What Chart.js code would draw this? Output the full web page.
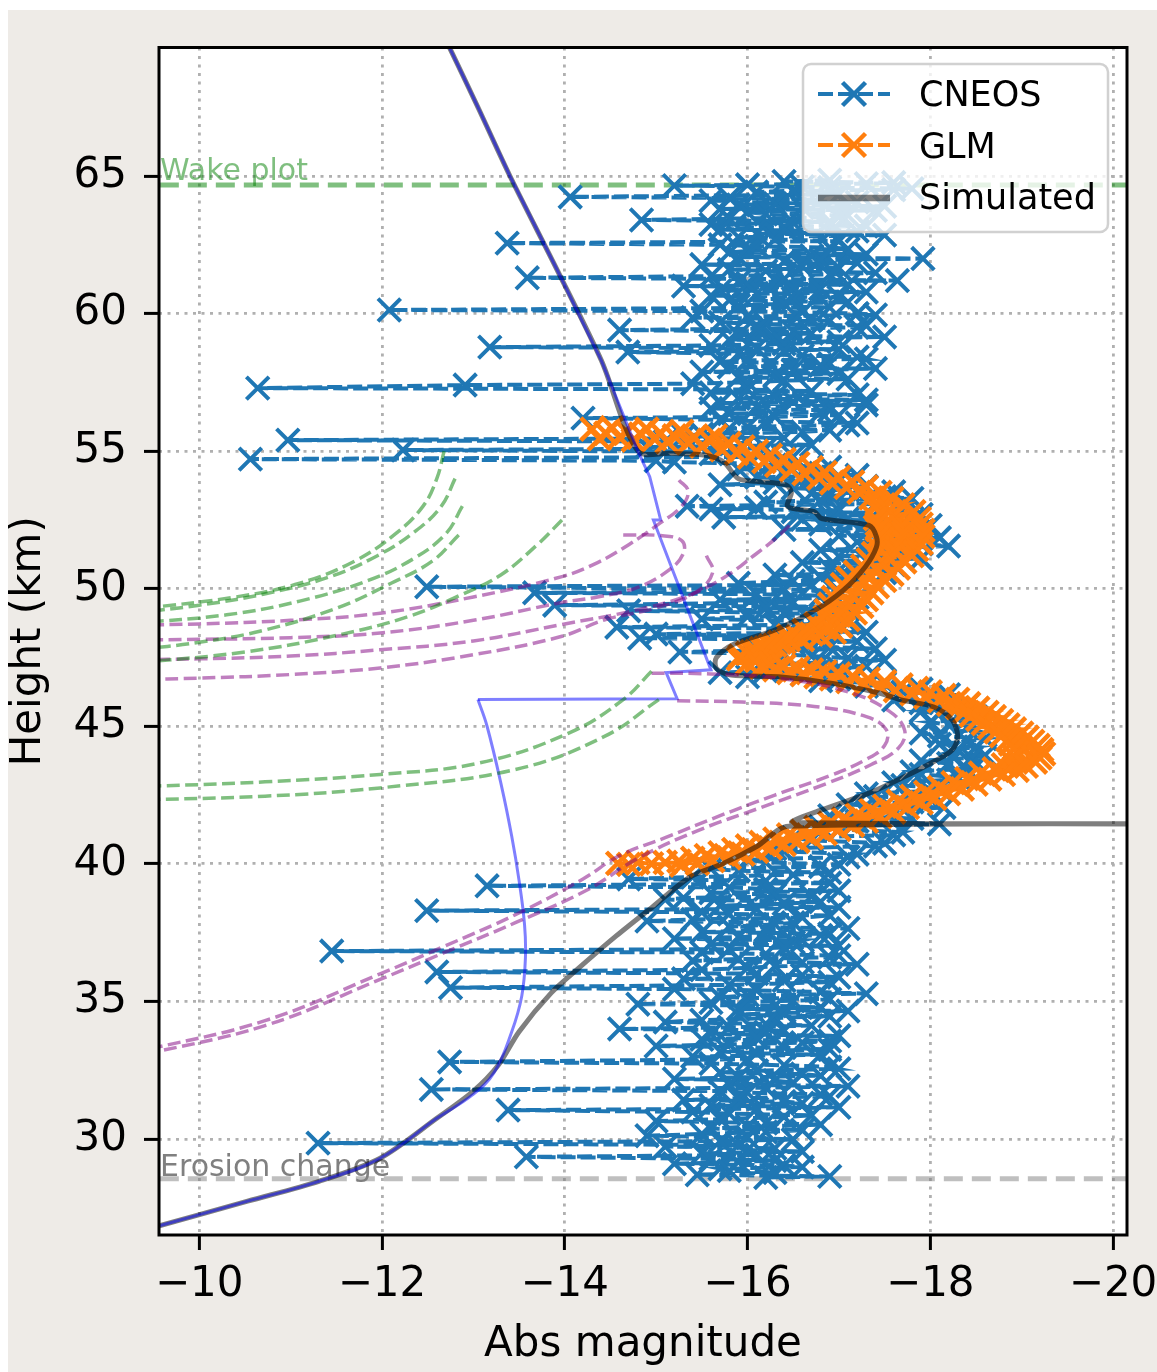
<!DOCTYPE html>
<html>
<head>
<meta charset="utf-8">
<script src="https://cdn.jsdelivr.net/npm/chart.js@4.4.1/dist/chart.umd.min.js"></script>
<style>
html, body { margin: 0; padding: 0; background: #fff; }
#wrap { position: absolute; left: 8px; top: 10px; width: 1149px; height: 1362px; background: #eeebe7; }
canvas { display: block; }
</style>
</head>
<body>
<div id="wrap"><canvas id="myChart" width="1149" height="1362"></canvas></div>
<script>
// axis ranges and ticks
const magMin = -20.153, magMax = -9.56;
const heightMin = 26.51, heightMax = 69.67;
const magTicks = [-10, -12, -14, -16, -18, -20];
const heightTicks = [30, 35, 40, 45, 50, 55, 60, 65];

// reference lines
const wakeHeight = 64.67;
const erosionHeight = 28.55;

// CNEOS light curve [mag, height]
const cneos = [
  [-16.9,64.85],[-16.4,64.80],[-17.6,64.76],[-17.3,64.72],[-16.0,64.68],[-15.2,64.65],[-16.6,64.61],[-16.9,64.58],
  [-17.8,64.54],[-17.6,64.50],[-16.5,64.46],[-16.1,64.42],[-17.0,64.33],[-14.06,64.24],[-15.8,64.20],[-16.8,64.15],
  [-15.6,64.10],[-17.2,64.05],[-16.3,64.00],[-15.9,63.95],[-17.5,63.90],[-16.6,63.85],[-15.7,63.80],[-17.4,63.75],
  [-16.0,63.68],[-16.2,63.62],[-17.1,63.56],[-17.0,63.50],[-15.8,63.45],[-14.84,63.40],[-16.9,63.35],[-16.5,63.30],
  [-15.6,63.24],[-17.3,63.18],[-16.4,63.12],[-15.7,63.05],[-17.2,63.00],[-16.9,62.95],[-16.1,62.90],[-17.5,62.85],
  [-15.9,62.78],[-16.3,62.70],[-17.0,62.63],[-13.37,62.56],[-15.7,62.50],[-16.1,62.45],[-16.9,62.40],[-17.1,62.35],
  [-16.0,62.28],[-15.8,62.22],[-17.3,62.16],[-16.7,62.10],[-15.9,62.05],[-17.92,62.00],[-16.8,61.95],[-16.4,61.90],
  [-17.2,61.84],[-15.5,61.78],[-16.6,61.72],[-17.0,61.65],[-15.8,61.60],[-16.2,61.55],[-17.4,61.48],[-16.9,61.42],
  [-15.6,61.36],[-13.59,61.30],[-16.4,61.25],[-17.64,61.20],[-15.9,61.15],[-16.0,61.10],[-17.1,61.05],[-15.3,61.00],
  [-16.5,60.95],[-16.8,60.90],[-15.7,60.84],[-17.3,60.78],[-16.1,60.72],[-15.6,60.65],[-17.0,60.60],[-16.5,60.55],
  [-15.8,60.48],[-17.1,60.42],[-16.4,60.36],[-15.9,60.30],[-16.9,60.22],[-12.08,60.13],[-15.5,60.09],[-16.6,60.05],
  [-17.2,60.00],[-17.4,59.95],[-16.0,59.90],[-15.4,59.85],[-16.7,59.80],[-16.9,59.75],[-15.7,59.68],[-16.2,59.62],
  [-17.3,59.56],[-17.2,59.50],[-16.1,59.45],[-14.6,59.40],[-16.5,59.34],[-16.7,59.28],[-15.9,59.22],[-17.5,59.15],
  [-16.3,59.10],[-15.8,59.05],[-17.0,58.98],[-16.4,58.90],[-15.6,58.84],[-13.18,58.78],[-16.1,58.74],[-17.0,58.70],
  [-16.4,58.65],[-14.69,58.60],[-15.9,58.54],[-16.6,58.48],[-17.2,58.42],[-17.3,58.35],[-16.0,58.30],[-15.7,58.25],
  [-16.9,58.18],[-16.8,58.12],[-15.8,58.06],[-17.4,58.00],[-16.5,57.94],[-15.5,57.88],[-17.0,57.82],[-16.3,57.75],
  [-15.9,57.68],[-17.1,57.62],[-16.4,57.56],[-16.0,57.50],[-15.4,57.45],[-12.91,57.40],[-10.64,57.29],[-16.0,57.24],
  [-16.7,57.18],[-15.6,57.12],[-17.2,57.05],[-16.3,56.98],[-15.9,56.92],[-17.3,56.86],[-16.5,56.80],[-15.7,56.74],
  [-17.3,56.68],[-16.1,56.62],[-15.6,56.55],[-16.9,56.48],[-16.8,56.42],[-15.8,56.36],[-17.0,56.30],[-16.3,56.25],
  [-14.2,56.20],[-15.7,56.14],[-16.2,56.08],[-17.2,56.02],[-17.1,55.95],[-16.0,55.88],[-15.8,55.82],[-16.9,55.76],
  [-16.6,55.70],[-15.5,55.62],[-15.3,55.55],[-16.4,55.48],[-10.97,55.40],[-15.1,55.35],[-16.0,55.30],[-16.7,55.22],
  [-14.9,55.15],[-16.2,55.10],[-12.23,55.04],[-15.9,54.97],[-15.6,54.90],[-16.5,54.80],[-10.56,54.71],[-15.0,54.65],
  [-15.2,54.60],[-16.0,54.55],[-16.3,54.50],[-16.9,54.42],[-15.9,54.35],[-16.4,54.28],[-16.8,54.20],[-17.2,54.12],
  [-16.1,54.05],[-16.6,53.98],[-17.0,53.92],[-16.3,53.85],[-15.7,53.78],[-17.3,53.72],[-16.5,53.65],[-17.1,53.58],
  [-17.6,53.52],[-16.7,53.46],[-16.9,53.40],[-17.5,53.34],[-17.8,53.28],[-16.8,53.22],[-16.2,53.15],[-17.4,53.08],
  [-15.34,53.00],[-16.1,52.95],[-15.6,52.90],[-17.0,52.85],[-16.5,52.80],[-17.7,52.75],[-17.9,52.70],[-16.9,52.65],
  [-15.74,52.60],[-17.1,52.56],[-16.6,52.52],[-17.8,52.46],[-17.3,52.40],[-16.8,52.35],[-18.0,52.30],[-17.5,52.22],
  [-16.4,52.15],[-17.9,52.08],[-17.6,52.00],[-17.0,51.92],[-18.1,51.85],[-17.6,51.78],[-17.2,51.70],[-17.9,51.62],
  [-18.2,51.55],[-17.4,51.48],[-16.8,51.40],[-17.8,51.32],[-17.5,51.25],[-17.0,51.18],[-17.9,51.10],[-17.3,51.02],
  [-16.6,50.95],[-17.6,50.88],[-17.4,50.80],[-16.9,50.72],[-17.0,50.65],[-17.5,50.58],[-16.3,50.50],[-16.8,50.42],
  [-17.2,50.35],[-16.5,50.28],[-15.9,50.20],[-16.7,50.14],[-12.49,50.07],[-16.4,49.98],[-17.0,49.92],[-13.67,49.85],
  [-16.1,49.80],[-16.8,49.75],[-17.2,49.68],[-15.7,49.60],[-16.5,49.50],[-13.89,49.40],[-16.9,49.35],[-16.2,49.30],
  [-17.1,49.25],[-14.7,49.20],[-16.4,49.12],[-16.9,49.05],[-16.0,48.98],[-15.5,48.90],[-16.7,48.82],[-17.1,48.75],
  [-16.3,48.68],[-14.57,48.60],[-16.9,48.54],[-16.6,48.48],[-17.3,48.42],[-15.0,48.35],[-16.4,48.28],[-14.82,48.20],
  [-16.8,48.14],[-17.2,48.08],[-16.5,48.02],[-16.0,47.95],[-16.9,47.88],[-17.4,47.82],[-16.2,47.76],[-15.26,47.70],
  [-16.4,47.62],[-16.7,47.55],[-17.1,47.48],[-17.5,47.40],[-16.8,47.32],[-16.3,47.25],[-17.3,47.18],[-17.0,47.10],
  [-16.2,47.02],[-15.7,46.95],[-16.6,46.88],[-16.0,46.80],[-17.0,46.72],[-16.8,46.65],[-17.5,46.55],[-17.3,46.45],
  [-17.9,46.35],[-17.7,46.25],[-18.2,46.15],[-18.0,46.05],[-17.6,45.95],[-17.9,45.85],[-18.4,45.75],[-18.3,45.65],
  [-17.9,45.55],[-18.1,45.45],[-18.5,45.35],[-18.4,45.25],[-18.0,45.15],[-18.2,45.05],[-18.4,44.95],[-18.5,44.85],
  [-17.9,44.75],[-18.1,44.65],[-18.6,44.55],[-18.4,44.45],[-18.1,44.35],[-18.5,44.25],[-18.3,44.15],[-18.2,44.05],
  [-18.6,43.95],[-18.45,43.85],[-17.9,43.75],[-18.2,43.65],[-18.5,43.55],[-18.4,43.45],[-17.8,43.35],[-17.9,43.25],
  [-18.3,43.15],[-18.2,43.05],[-17.6,42.95],[-17.7,42.85],[-18.1,42.75],[-18.0,42.65],[-17.3,42.55],[-17.4,42.45],
  [-18.0,42.35],[-17.8,42.25],[-17.1,42.15],[-18.15,42.05],[-17.6,41.95],[-17.3,41.85],[-16.9,41.75],[-17.8,41.65],
  [-17.2,41.55],[-18.1,41.45],[-16.8,41.35],[-17.0,41.25],[-17.7,41.15],[-17.6,41.05],[-16.5,40.95],[-16.7,40.85],
  [-17.5,40.75],[-17.4,40.65],[-16.3,40.55],[-16.4,40.45],[-17.2,40.35],[-17.1,40.25],[-16.0,40.15],[-16.2,40.05],
  [-17.0,39.98],[-16.8,39.90],[-15.6,39.82],[-15.9,39.75],[-16.9,39.68],[-16.5,39.60],[-15.4,39.52],[-14.7,39.45],
  [-16.2,39.38],[-16.9,39.30],[-13.15,39.20],[-15.8,39.14],[-16.2,39.08],[-17.0,39.02],[-15.6,38.95],[-16.3,38.88],
  [-16.7,38.82],[-15.3,38.76],[-15.1,38.70],[-16.8,38.62],[-16.4,38.55],[-15.7,38.48],[-17.0,38.42],[-16.1,38.36],
  [-12.49,38.30],[-15.5,38.24],[-15.8,38.18],[-16.9,38.12],[-16.6,38.05],[-15.4,37.98],[-14.9,37.92],[-16.5,37.86],
  [-16.3,37.80],[-15.8,37.72],[-17.1,37.65],[-16.2,37.58],[-15.5,37.52],[-16.9,37.46],[-16.8,37.40],[-15.9,37.34],
  [-15.2,37.28],[-16.6,37.22],[-16.5,37.15],[-15.6,37.08],[-17.0,37.02],[-16.4,36.96],[-15.8,36.90],[-11.45,36.83],
  [-15.5,36.78],[-16.2,36.72],[-17.0,36.66],[-16.9,36.60],[-15.9,36.54],[-15.4,36.48],[-16.6,36.42],[-17.2,36.35],
  [-16.3,36.28],[-16.0,36.22],[-15.5,36.15],[-12.60,36.07],[-16.1,36.01],[-16.6,35.95],[-17.0,35.88],[-15.3,35.82],
  [-16.4,35.76],[-16.9,35.70],[-15.8,35.60],[-12.75,35.50],[-15.2,35.45],[-16.1,35.40],[-16.8,35.34],[-17.3,35.28],
  [-16.0,35.22],[-15.7,35.15],[-16.9,35.08],[-16.5,35.02],[-15.6,34.96],[-14.8,34.90],[-16.3,34.84],[-16.8,34.78],
  [-15.9,34.72],[-17.1,34.65],[-16.4,34.58],[-15.9,34.52],[-16.9,34.46],[-16.3,34.40],[-15.5,34.32],[-15.1,34.25],
  [-16.2,34.18],[-16.7,34.12],[-15.8,34.06],[-14.6,34.00],[-16.4,33.94],[-16.2,33.88],[-15.6,33.82],[-17.0,33.75],
  [-16.1,33.68],[-15.5,33.62],[-16.9,33.56],[-16.6,33.50],[-15.8,33.44],[-15.0,33.38],[-16.4,33.32],[-16.9,33.25],
  [-15.7,33.18],[-16.1,33.12],[-16.8,33.06],[-15.4,33.00],[-16.0,32.90],[-12.74,32.80],[-15.6,32.74],[-16.4,32.68],
  [-16.9,32.62],[-17.0,32.55],[-16.1,32.48],[-15.7,32.42],[-16.6,32.36],[-16.8,32.30],[-15.9,32.24],[-15.2,32.18],
  [-16.3,32.12],[-16.5,32.05],[-15.8,31.98],[-17.1,31.92],[-16.2,31.86],[-12.54,31.80],[-15.7,31.74],[-16.0,31.68],
  [-16.8,31.62],[-16.9,31.55],[-15.9,31.48],[-15.3,31.42],[-16.4,31.36],[-16.6,31.30],[-15.6,31.22],[-17.0,31.15],
  [-16.1,31.10],[-13.38,31.05],[-15.4,30.98],[-15.8,30.92],[-16.7,30.86],[-16.4,30.80],[-15.7,30.72],[-15.0,30.65],
  [-16.2,30.58],[-16.8,30.52],[-16.0,30.45],[-15.6,30.38],[-16.6,30.32],[-16.2,30.25],[-15.5,30.18],[-14.9,30.12],
  [-16.0,30.05],[-16.5,29.98],[-15.7,29.92],[-11.30,29.85],[-15.9,29.78],[-15.1,29.72],[-16.3,29.66],[-16.0,29.60],
  [-16.6,29.54],[-15.5,29.48],[-16.1,29.42],[-13.58,29.35],[-15.6,29.28],[-16.3,29.22],[-15.9,29.16],[-15.2,29.10],
  [-16.4,29.04],[-16.6,28.98],[-15.7,28.92],[-15.8,28.85],[-16.3,28.78],[-15.45,28.70],[-16.9,28.64],[-16.2,28.60]
];

// GLM light curve [mag, height]
const glm = [
  [-14.30,55.80],[-14.38,55.45],[-14.45,55.65],[-14.52,55.85],[-14.60,55.50],[-14.68,55.70],[-14.75,55.40],[-14.83,55.62],
  [-14.90,55.80],[-14.98,55.45],[-15.05,55.65],[-15.12,55.35],[-15.20,55.55],[-15.28,55.72],[-15.35,55.30],[-15.42,55.50],
  [-15.50,55.18],[-15.58,55.40],[-15.65,55.55],[-15.72,55.05],[-15.80,55.28],[-15.88,54.92],[-15.95,55.15],[-16.02,54.78],
  [-16.10,55.00],[-16.18,54.62],[-16.25,54.85],[-16.32,54.48],[-16.40,54.70],[-16.48,54.32],[-16.55,54.55],[-16.62,54.18],
  [-16.70,54.40],[-16.78,54.02],[-16.85,54.22],[-16.92,53.85],[-17.00,54.05],[-17.08,53.68],[-17.15,53.88],[-17.22,53.50],
  [-17.30,53.70],[-17.35,53.30],[-17.45,53.50],[-17.42,53.10],[-17.58,53.28],[-17.40,52.95],[-17.70,53.05],[-17.55,52.85],
  [-17.45,52.75],[-17.82,52.80],[-17.60,52.65],[-17.40,52.55],[-17.88,52.55],[-17.65,52.45],[-17.42,52.35],[-17.90,52.35],
  [-17.68,52.25],[-17.42,52.15],[-17.92,52.12],[-17.70,52.02],[-17.45,51.95],[-17.92,51.90],[-17.68,51.80],[-17.45,51.72],
  [-17.90,51.65],[-17.65,51.58],[-17.42,51.50],[-17.85,51.42],[-17.62,51.35],[-17.38,51.28],[-17.80,51.20],[-17.55,51.12],
  [-17.32,51.05],[-17.72,50.98],[-17.50,50.90],[-17.26,50.82],[-17.65,50.75],[-17.42,50.68],[-17.18,50.60],[-17.58,50.52],
  [-17.35,50.45],[-17.10,50.38],[-17.50,50.30],[-17.28,50.22],[-17.04,50.15],[-17.42,50.08],[-17.20,50.00],[-16.98,49.92],
  [-17.36,49.85],[-17.15,49.76],[-16.94,49.68],[-17.30,49.60],[-17.10,49.52],[-16.90,49.44],[-17.25,49.36],[-17.05,49.28],
  [-16.86,49.20],[-17.18,49.12],[-17.00,49.04],[-16.85,48.96],[-17.10,48.88],[-16.92,48.80],[-16.75,48.72],[-17.02,48.64],
  [-16.85,48.56],[-16.62,48.48],[-16.95,48.42],[-16.70,48.35],[-16.45,48.28],[-16.80,48.30],[-16.60,48.15],[-16.40,48.05],
  [-16.55,48.25],[-16.30,47.95],[-16.45,48.15],[-16.20,47.85],[-16.35,48.05],[-16.10,47.72],[-16.25,47.92],[-16.00,47.65],
  [-16.15,47.82],[-15.92,47.55],[-16.05,47.70],[-15.90,47.45],[-16.10,47.40],[-16.00,47.30],[-16.25,47.30],[-16.15,47.15],
  [-16.40,47.20],[-16.30,47.05],[-16.55,47.12],[-16.45,46.95],[-16.70,47.05],[-16.60,46.88],[-16.85,46.98],[-16.75,46.80],
  [-17.00,46.90],[-16.92,46.72],[-17.15,46.82],[-17.10,46.62],[-17.32,46.72],[-17.28,46.52],[-17.50,46.62],[-17.45,46.42],
  [-17.68,46.50],[-17.62,46.30],[-17.85,46.38],[-17.80,46.18],[-18.00,46.25],[-17.95,46.05],[-18.15,46.12],[-18.10,45.92],
  [-18.30,45.98],[-18.20,45.80],[-18.42,45.82],[-18.30,45.68],[-18.52,45.66],[-18.38,45.54],[-18.62,45.50],[-18.45,45.40],
  [-18.70,45.35],[-18.52,45.25],[-18.78,45.20],[-18.58,45.10],[-18.85,45.05],[-18.65,44.95],[-18.92,44.90],[-18.72,44.80],
  [-19.00,44.75],[-18.78,44.65],[-19.06,44.60],[-18.85,44.50],[-19.12,44.45],[-18.88,44.35],[-19.18,44.30],[-18.92,44.20],
  [-19.22,44.15],[-18.95,44.05],[-19.24,44.00],[-18.92,43.90],[-19.20,43.85],[-18.88,43.75],[-19.15,43.70],[-18.80,43.60],
  [-19.05,43.55],[-18.70,43.45],[-18.95,43.40],[-18.55,43.30],[-18.80,43.25],[-18.40,43.10],[-18.65,43.08],[-18.25,42.95],
  [-18.50,42.90],[-18.10,42.78],[-18.35,42.72],[-17.95,42.60],[-18.20,42.55],[-17.80,42.45],[-18.05,42.38],[-17.65,42.28],
  [-17.90,42.22],[-17.50,42.10],[-17.75,42.05],[-17.35,41.95],[-17.60,41.88],[-17.20,41.78],[-17.45,41.72],[-17.05,41.62],
  [-17.30,41.55],[-16.90,41.48],[-17.15,41.40],[-16.75,41.32],[-17.00,41.25],[-16.60,41.18],[-16.85,41.10],[-16.45,41.05],
  [-16.70,40.95],[-16.30,40.90],[-16.55,40.82],[-16.15,40.78],[-16.40,40.70],[-16.00,40.65],[-16.25,40.58],[-15.85,40.52],
  [-16.10,40.45],[-15.70,40.40],[-15.95,40.35],[-15.55,40.30],[-15.80,40.22],[-15.40,40.20],[-15.62,40.12],[-15.25,40.10],
  [-15.45,40.02],[-15.10,40.05],[-15.28,39.95],[-14.95,40.00],[-14.80,40.05],[-14.70,39.98],[-14.58,40.02]
];

// simulated light curve [mag, height]
const simulated = [
  [-12.72,69.8],[-13.05,67.5],[-13.4,65.0],[-13.93,61.5],[-14.4,58.3],[-14.8,55.0],[-15.15,54.92],[-15.54,54.85],
  [-15.74,54.6],[-15.9,54.0],[-16.1,53.9],[-16.42,53.77],[-16.48,53.5],[-16.44,52.98],[-16.73,52.8],[-16.81,52.55],
  [-17.33,52.3],[-17.41,51.9],[-17.41,51.5],[-17.29,50.8],[-17.05,49.95],[-16.73,49.2],[-16.3,48.5],[-15.86,48.0],
  [-15.66,47.5],[-15.66,47.1],[-15.82,46.86],[-16.34,46.8],[-16.93,46.56],[-17.45,46.2],[-17.68,45.96],[-18.04,45.7],
  [-18.24,45.23],[-18.3,44.63],[-18.24,44.14],[-18.04,43.72],[-17.72,43.17],[-17.33,42.57],[-16.81,41.96],[-16.5,41.5],
  [-26.0,41.5],[-26.0,41.37],[-16.45,41.37],[-16.1,40.63],[-15.74,40.02],[-15.38,39.54],[-14.97,38.46],[-14.56,37.37],
  [-14.14,36.17],[-13.85,35.3],[-13.5,33.9],[-13.27,32.67],[-12.99,31.71],[-12.6,30.75],[-11.98,29.3],[-11.31,28.46],
  [-10.53,27.74],[-9.3,26.6]
];

// single-body model line [mag, height]: stepped upper part, smooth lower part
const modelUpper = [
  [-12.72,69.8],[-13.05,67.5],[-13.4,65.0],[-13.93,61.5],[-14.4,58.3],[-14.8,55.0],[-14.93,54.07],[-15.05,52.5],
  [-14.97,52.5],[-15.6,47.05],[-15.11,46.95],[-15.23,46.0],[-13.05,45.97]
];
const modelLower = [
  [-13.05,45.97],[-13.15,45.0],[-13.31,42.8],[-13.42,41.0],[-13.5,39.4],[-13.56,37.8],[-13.57,36.6],[-13.53,35.2],
  [-13.42,33.9],[-13.23,32.43],[-12.99,31.6],[-12.6,30.75],[-11.98,29.3],[-11.31,28.46],[-10.53,27.74],[-9.3,26.6]
];

// fragment curves (purple)
const fragU1 = [[-15.25,53.95],[-15.35,53.55],[-15.28,53.0],[-15.05,52.4],[-14.7,51.6],[-14.36,50.95],[-13.97,50.44],[-13.0,49.7],[-11.98,49.11],[-11.0,48.85],[-10.0,48.72],[-9.3,48.68]];
const fragU2 = [[-14.64,51.95],[-15.05,51.93],[-15.28,51.75],[-15.3,51.3],[-15.15,50.7],[-14.8,50.05],[-14.36,49.7],[-13.97,49.5],[-13.0,48.85],[-11.98,48.39],[-11.0,48.22],[-10.0,48.16],[-9.3,48.14]];
const fragU3 = [[-16.46,52.3],[-16.3,51.8],[-16.1,51.28],[-15.74,50.4],[-15.35,49.75],[-14.75,49.2],[-13.97,48.7],[-13.0,48.1],[-11.98,47.78],[-11.0,47.55],[-10.0,47.45],[-9.3,47.42]];
const fragU4 = [[-15.55,51.2],[-15.62,50.6],[-15.45,49.9],[-15.0,49.3],[-14.44,48.87],[-13.97,48.27],[-13.0,47.6],[-11.98,47.12],[-11.0,46.88],[-10.0,46.75],[-9.3,46.7]];
const fragL1 = [[-15.23,45.93],[-15.94,45.88],[-16.73,45.72],[-17.3,45.35],[-17.52,44.87],[-17.5,44.3],[-17.3,43.8],[-16.9,43.2],[-16.3,42.5],[-15.7,41.75],[-15.1,40.95],[-14.6,40.3],[-14.2,39.45],[-13.46,38.15],[-12.68,37.0],[-11.98,36.0],[-10.72,34.3],[-9.3,33.15]];
const fragL2 = [[-14.95,46.93],[-15.6,46.9],[-16.4,46.72],[-17.1,46.25],[-17.55,45.55],[-17.72,44.85],[-17.65,44.2],[-17.35,43.6],[-16.85,42.9],[-16.15,42.05],[-15.45,41.2],[-14.8,40.2],[-14.25,39.06],[-13.46,37.86],[-12.68,36.77],[-11.98,35.8],[-10.72,34.12],[-9.3,33.0]];

// wake curves (green)
const wakeU1 = [[-12.68,55.0],[-12.6,54.0],[-12.45,53.0],[-12.15,52.0],[-11.7,51.0],[-11.1,50.2],[-10.4,49.7],[-9.3,49.25]];
const wakeU2 = [[-12.8,54.0],[-12.65,53.0],[-12.37,52.1],[-11.95,51.2],[-11.4,50.4],[-10.7,49.8],[-10.0,49.4],[-9.3,49.12]];
const wakeU3 = [[-12.88,53.0],[-12.7,52.0],[-12.35,51.1],[-11.85,50.3],[-11.1,49.55],[-10.3,49.05],[-9.3,48.75]];
const wakeU4 = [[-12.84,51.95],[-12.55,51.0],[-12.1,50.2],[-11.51,49.3],[-10.72,48.5],[-10.0,48.05],[-9.3,47.78]];
const wakeU5 = [[-13.97,52.5],[-13.7,51.6],[-13.3,50.5],[-12.88,49.8],[-12.3,49.0],[-11.5,48.3],[-10.5,47.7],[-9.3,47.3]];
const wakeL1 = [[-14.95,47.0],[-14.64,45.97],[-14.05,44.76],[-13.07,43.67],[-11.98,43.25],[-10.72,42.98],[-9.3,42.8]];
const wakeL2 = [[-15.03,45.97],[-14.44,44.64],[-13.46,43.43],[-11.98,42.76],[-10.72,42.46],[-9.3,42.32]];

const FONT = '"DejaVu Sans", sans-serif';
const blue = '#1f77b4', orange = '#ff7f0e';

function toXY(list) { return list.map(p => ({ x: p[0], y: p[1] })); }

function curve(list, color, ord) {
    return {
        data: toXY(list), showLine: true, borderColor: color, borderWidth: 3.5,
        borderDash: [13, 5.5], pointRadius: 0, tension: 0.4, order: ord
    };
}

const fragColor = 'rgba(128,0,128,0.5)';
const wakeColor = 'rgba(0,128,0,0.5)';

const datasets = [
    { label: 'CNEOS', data: toXY(cneos), showLine: true, borderColor: blue, borderWidth: 4, borderDash: [15, 5],
      pointStyle: 'crossRot', pointRadius: 16, pointBorderColor: blue, pointBorderWidth: 4, order: 9 },
    { label: 'GLM', data: toXY(glm), showLine: true, borderColor: orange, borderWidth: 4, borderDash: [15, 5],
      pointStyle: 'crossRot', pointRadius: 16, pointBorderColor: orange, pointBorderWidth: 4.5, order: 8 },
    { label: 'Simulated', data: toXY(simulated), showLine: true, borderColor: 'rgba(0,0,0,0.5)', borderWidth: 5,
      pointRadius: 0, tension: 0.3, order: 7 },
    { label: 'model upper', data: toXY(modelUpper), showLine: true, borderColor: 'rgba(0,0,255,0.5)', borderWidth: 3,
      pointRadius: 0, tension: 0, order: 6 },
    { label: 'model lower', data: toXY(modelLower), showLine: true, borderColor: 'rgba(0,0,255,0.5)', borderWidth: 3,
      pointRadius: 0, tension: 0.4, order: 6 },
    { label: 'wake line', data: [{ x: -30, y: wakeHeight }, { x: 0, y: wakeHeight }], showLine: true,
      borderColor: wakeColor, borderWidth: 5, borderDash: [19, 9], pointRadius: 0, order: 10 },
    { label: 'erosion line', data: [{ x: -30, y: erosionHeight }, { x: 0, y: erosionHeight }], showLine: true,
      borderColor: 'rgba(128,128,128,0.5)', borderWidth: 5, borderDash: [19, 9], pointRadius: 0, order: 10 },
    curve(fragU1, fragColor, 5), curve(fragU2, fragColor, 5), curve(fragU3, fragColor, 5), curve(fragU4, fragColor, 5),
    curve(fragL1, fragColor, 5), curve(fragL2, fragColor, 5),
    curve(wakeU1, wakeColor, 4), curve(wakeU2, wakeColor, 4), curve(wakeU3, wakeColor, 4), curve(wakeU4, wakeColor, 4),
    curve(wakeU5, wakeColor, 4), curve(wakeL1, wakeColor, 4), curve(wakeL2, wakeColor, 4)
];

// legend entries
const legendItems = [
    { text: 'CNEOS', color: blue, dashed: true, marker: true },
    { text: 'GLM', color: orange, dashed: true, marker: true },
    { text: 'Simulated', color: 'rgba(0,0,0,0.5)', dashed: false, marker: false }
];

function drawX(ctx, cx, cy, r) {
    ctx.beginPath();
    ctx.moveTo(cx - r, cy - r); ctx.lineTo(cx + r, cy + r);
    ctx.moveTo(cx - r, cy + r); ctx.lineTo(cx + r, cy - r);
    ctx.stroke();
}

const decorations = {
    id: 'decorations',
    beforeDraw(chart) {
        // white axes background
        const { ctx, chartArea: a } = chart;
        ctx.save();
        ctx.fillStyle = '#ffffff';
        ctx.fillRect(a.left, a.top, a.right - a.left, a.bottom - a.top);
        ctx.restore();
    },
    beforeDatasetsDraw(chart) {
        const { ctx, chartArea: a, scales: { y } } = chart;
        ctx.save();
        ctx.font = '30px ' + FONT;
        ctx.textAlign = 'left';
        ctx.textBaseline = 'alphabetic';
        ctx.fillStyle = 'rgba(0,128,0,0.5)';
        ctx.fillText('Wake plot', a.left + 1, y.getPixelForValue(wakeHeight) - 5);
        ctx.fillStyle = '#808080';
        ctx.fillText('Erosion change', a.left + 1, y.getPixelForValue(erosionHeight) - 3);
        ctx.restore();
    },
    afterDatasetsDraw(chart) {
        const { ctx, chartArea: a } = chart;
        ctx.save();
        ctx.strokeStyle = '#000';
        ctx.lineWidth = 3;
        ctx.strokeRect(a.left, a.top, a.right - a.left, a.bottom - a.top);
        ctx.restore();
    },
    afterDraw(chart) {
        const ctx = chart.ctx;
        ctx.save();
        // legend frame
        ctx.beginPath();
        ctx.roundRect(795, 54, 305, 168, 8);
        ctx.fillStyle = 'rgba(255,255,255,0.8)';
        ctx.fill();
        ctx.lineWidth = 2.5;
        ctx.strokeStyle = 'rgba(204,204,204,0.9)';
        ctx.stroke();
        const rows = [84, 135, 188];
        const baselines = [96, 148, 199];
        legendItems.forEach((item, i) => {
            const cy = rows[i];
            ctx.strokeStyle = item.color;
            if (item.dashed) {
                ctx.lineWidth = 4;
                ctx.setLineDash([15, 5]);
            } else {
                ctx.lineWidth = 6.5;
                ctx.setLineDash([]);
            }
            ctx.beginPath();
            ctx.moveTo(810, cy);
            ctx.lineTo(882, cy);
            ctx.stroke();
            ctx.setLineDash([]);
            if (item.marker) {
                ctx.lineWidth = 4.5;
                drawX(ctx, 846, cy, 11.5);
            }
            ctx.fillStyle = '#000';
            ctx.font = '35px ' + FONT;
            ctx.textBaseline = 'alphabetic';
            ctx.textAlign = 'left';
            ctx.fillText(item.text, 911, baselines[i]);
        });
        ctx.restore();
    }
};

const tickFont = { family: FONT, size: 42 };

const myChart = new Chart(document.getElementById('myChart'), {
    type: 'scatter',
    data: { datasets: datasets },
    options: {
        responsive: false,
        devicePixelRatio: 1,
        animation: false,
        events: [],
        layout: { padding: { top: 37.5, right: 30, left: 0, bottom: 0 } },
        plugins: { legend: { display: false }, tooltip: { enabled: false } },
        scales: {
            x: {
                type: 'linear',
                reverse: true,
                min: magMin,
                max: magMax,
                afterBuildTicks: s => { s.ticks = magTicks.map(v => ({ value: v })); },
                afterFit: s => { s.height = 137; s.paddingLeft = 0; s.paddingRight = 0; },
                ticks: {
                    callback: v => '\u2212' + Math.abs(v),
                    font: tickFont, color: '#000', padding: 10, maxRotation: 0, autoSkip: false
                },
                grid: { color: '#b0b0b0', lineWidth: 2.8, tickColor: '#000', tickWidth: 3, tickLength: 15 },
                border: { display: false, dash: [3, 5.5] },
                title: {
                    display: true, text: 'Abs magnitude', color: '#000',
                    font: { family: FONT, size: 42, lineHeight: 1 }, padding: { top: 0, bottom: 6 }
                }
            },
            y: {
                type: 'linear',
                min: heightMin,
                max: heightMax,
                afterBuildTicks: s => { s.ticks = heightTicks.map(v => ({ value: v })); },
                afterFit: s => { s.width = 151; s.paddingTop = 0; s.paddingBottom = 0; },
                ticks: { font: tickFont, color: '#000', padding: 17, autoSkip: false },
                grid: { color: '#b0b0b0', lineWidth: 2.8, tickColor: '#000', tickWidth: 3, tickLength: 15 },
                border: { display: false, dash: [3, 5.5] },
                title: {
                    display: true, text: 'Height (km)', color: '#000',
                    font: { family: FONT, size: 42, lineHeight: 1 }, padding: 0
                }
            }
        }
    },
    plugins: [decorations]
});
</script>
</body>
</html>
